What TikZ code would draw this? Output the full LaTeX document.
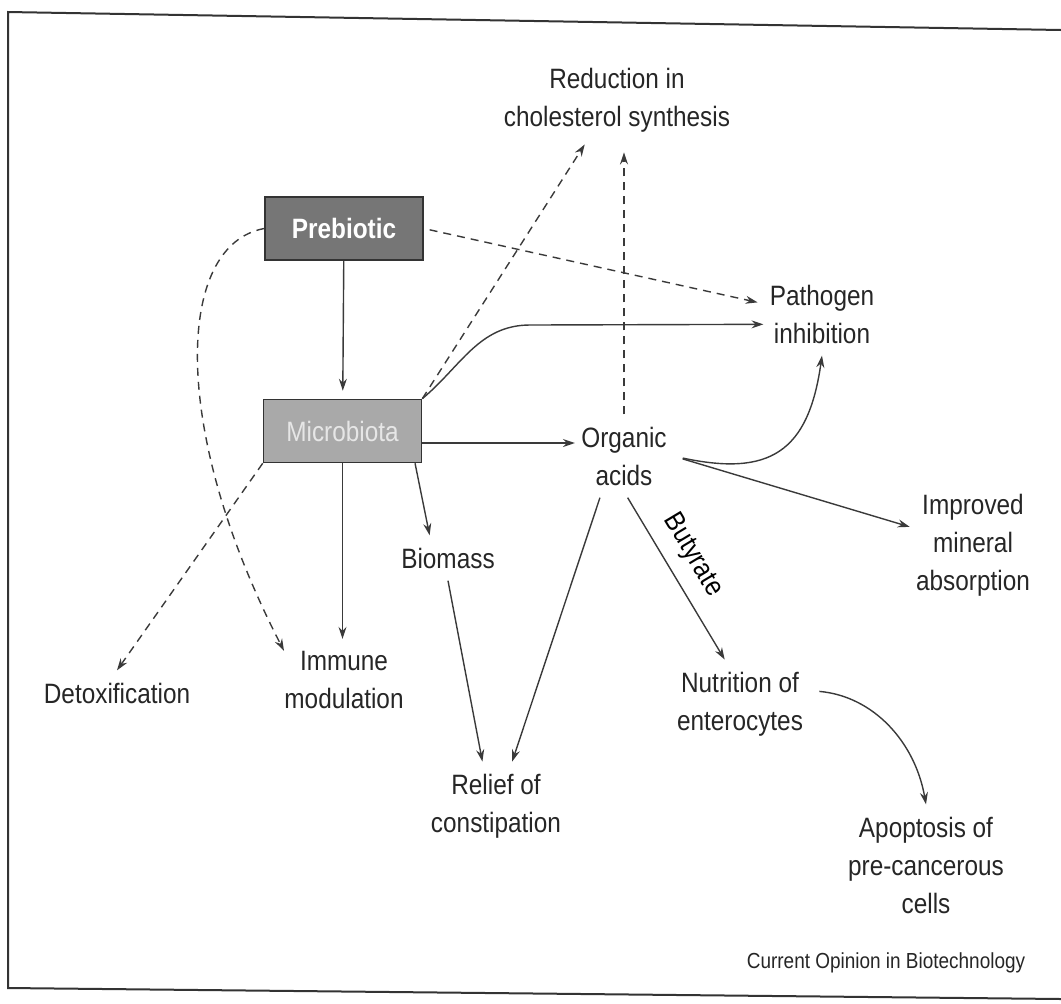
\documentclass[tikz,border=0pt]{standalone}
\usepackage{fontspec}
\setmainfont{Liberation Sans}[FakeStretch=0.87]
\usetikzlibrary{arrows.meta,positioning}
\definecolor{InkGray}{HTML}{3A3A3A}
\definecolor{PreFill}{HTML}{767676}
\definecolor{MicFill}{HTML}{A9A9A9}
\definecolor{MicText}{HTML}{E6E6E6}
\tikzset{
  flow/.style={-{Stealth[length=6pt,width=4pt,inset=2pt]}, line width=0.7pt, draw=InkGray},
  effect/.style={flow, dash pattern=on 4pt off 3pt},
  outcome/.style={align=center, inner xsep=3pt, inner ysep=6pt, text=black!85},
  agent/.style={draw=black!80, line width=0.8pt, minimum height=31.5pt, minimum width=79pt, inner sep=0pt},
  prebox/.style={agent, fill=PreFill, text=white, font=\fontsize{14}{19}\selectfont\bfseries},
  micbox/.style={agent, fill=MicFill, text=MicText},
}
\begin{document}
\begin{tikzpicture}[x=0.5pt,y=-0.5pt,font=\fontsize{14}{19}\selectfont]
    \useasboundingbox (0,0) rectangle (1061,1003);
    % frame of the figure
    \draw[line width=1pt, draw=black!80] (1061,30) -- (8,12) -- (8,988) -- (1061,999);
    \node[outcome] (chol) at (617,100) {Reduction in\\cholesterol synthesis};
    \node[prebox] (pre) at (344,228.5) {Prebiotic};
    \node[micbox] (mic) at (342.5,431) {Microbiota};
    \node[outcome] (path) at (822,314) {Pathogen\\inhibition};
    \node[outcome] (org) at (624,456) {Organic\\acids};
    \node[outcome] (bio) at (448,558) {Biomass};
    \node[outcome] (mineral) at (973,545) {Improved\\mineral\\absorption};
    \node[outcome] (detox) at (117,693) {Detoxification};
    \node[outcome] (immune) at (344,680) {Immune\\modulation};
    \node[outcome] (nutr) at (740,704) {Nutrition of\\enterocytes};
    \node[outcome] (relief) at (496,806) {Relief of\\constipation};
    \node[outcome] (apop) at (926,865) {Apoptosis of\\pre-cancerous\\cells};
    \node[outcome, font=\fontsize{10.9}{13}\selectfont] (credit) at (886,963) {Current Opinion in Biotechnology};
    \coordinate (bend) at (530,325);
    \coordinate (macid) at ([yshift=-6pt]mic.east);
    % solid links
    \draw[flow, shorten >=4pt] (pre) -- (mic);
    \draw[flow] (mic.north east) to[out=40,in=180] (bend) -- (path.190);
    \draw[flow] (macid) -- (macid -| org.west);
    \draw[flow] (mic.south) -- (mic.south |- immune.north);
    \draw[flow] (mic.-24) -- (bio.129);
    \draw[flow] (bio.south) -- (relief.107);
    \draw[flow] (org.240) -- (relief.70);
    \draw[flow] (org.275) -- node[pos=0.44, sloped, above, inner sep=6.5pt] {Butyrate} (nutr.109);
    \draw[flow, shorten <=5pt] (org.east) to[out=-12,in=-98,looseness=1.4] (path.south);
    \draw[flow, shorten <=5pt] (org.east) -- (mineral.164);
    \draw[flow, shorten <=5pt] (nutr.11) to[out=-5,in=100] (apop.north);
    % dashed links
    \draw[effect, shorten <=3pt, shorten >=3pt] (pre.east) -- (path.170);
    \draw[effect] (pre.west) .. controls (175,245) and (170,430) .. ([shift={(3pt,-6pt)}]immune.north west);
    \draw[effect] (mic.south west) -- (detox.north);
    \draw[effect] (mic.north east) -- (chol.234);
    \draw[effect, shorten >=4pt] (org.north) -- (org.north |- chol.south);
\end{tikzpicture}
\end{document}
